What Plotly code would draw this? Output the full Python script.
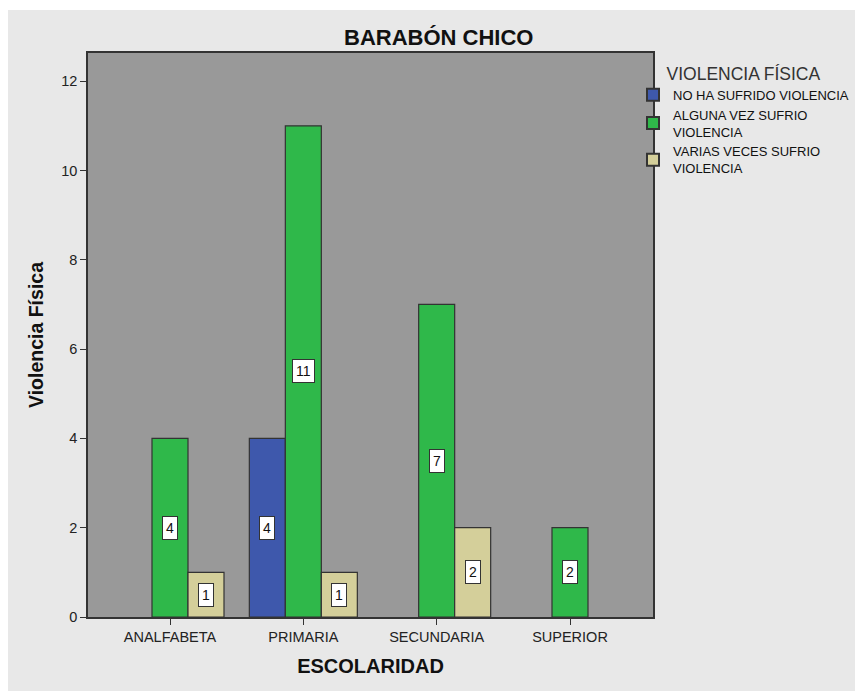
import plotly.graph_objects as go

categories = ["ANALFABETA", "PRIMARIA", "SECUNDARIA", "SUPERIOR"]
series_names = ["NO HA SUFRIDO VIOLENCIA", "ALGUNA VEZ SUFRIO<br>VIOLENCIA", "VARIAS VECES SUFRIO<br>VIOLENCIA"]
no_ha_sufrido = [None, 4, None, None]
alguna_vez = [4, 11, 7, 2]
varias_veces = [1, 1, 2, None]
colors = ["#3e58ac", "#2fb84a", "#d4cf9a"]
y_ticks = [0, 2, 4, 6, 8, 10, 12]

series = [no_ha_sufrido, alguna_vez, varias_veces]

W, H = 855, 691
L, R, T, B = 88, 202, 53, 74
pw, ph = W - L - R, H - T - B
HATCH = "#e8e8e8"

def px_x(p):
    return (p - L) / pw

def px_y(p):
    return (H - B - p) / ph

xpos = list(range(len(categories)))
bargap = 0.19
bw = (1 - bargap) / len(series)

fig = go.Figure()
for name, vals, col in zip(series_names, series, colors):
    fig.add_trace(go.Bar(
        x=xpos, y=vals, name=name,
        marker=dict(color=col, line=dict(color="#333333", width=1.2)),
        hoverinfo="skip",
    ))

font_fam = "Liberation Sans, Arial"

annotations = []
for k, vals in enumerate(series):
    off = (k - (len(series) - 1) / 2) * bw
    for i, v in enumerate(vals):
        if v is None:
            continue
        annotations.append(dict(
            x=i + off, y=v / 2, xref="x", yref="y",
            text=str(v), showarrow=False,
            font=dict(family=font_fam, size=14, color="#111111"),
            bgcolor="white", bordercolor="#333333", borderwidth=1, borderpad=3,
        ))

annotations.append(dict(
    x=px_x(438), y=px_y(38), xref="paper", yref="paper",
    text="<b>BARABÓN CHICO</b>", showarrow=False,
    xanchor="center", yanchor="middle",
    font=dict(family=font_fam, size=22, color="#111111"),
))

shapes = [
    dict(type="rect", xref="paper", yref="paper", layer="below",
         x0=px_x(8), x1=px_x(W + 20), y0=px_y(H + 5), y1=px_y(10),
         fillcolor=HATCH, line=dict(width=0)),
    dict(type="rect", xref="paper", yref="paper", layer="below",
         x0=0, x1=1, y0=0, y1=1,
         fillcolor="#999999", line=dict(width=0)),
]

fig.update_layout(
    width=W, height=H, autosize=False,
    margin=dict(l=L, r=R, t=T, b=B, pad=0, autoexpand=False),
    paper_bgcolor="white",
    plot_bgcolor="rgba(0,0,0,0)",
    barmode="group", bargap=bargap, bargroupgap=0,
    showlegend=True,
    legend=dict(
        x=px_x(633), y=px_y(57), xanchor="left", yanchor="top",
        bgcolor="rgba(0,0,0,0)",
        font=dict(family=font_fam, size=13, color="#111111"),
        title=dict(text="VIOLENCIA FÍSICA", side="top center",
                   font=dict(family=font_fam, size=17.5, color="#333333")),
        tracegroupgap=0, itemsizing="constant",
    ),
    xaxis=dict(
        range=[-0.615, 3.6225], tickmode="array", tickvals=xpos, ticktext=categories,
        ticks="outside", ticklen=6, tickcolor="#333333", tickwidth=1.2,
        showline=True, linecolor="#333333", linewidth=1.5, mirror=True,
        showgrid=False, zeroline=False, automargin=False,
        tickfont=dict(family=font_fam, size=14.5, color="#222222"),
        title=dict(text="<b>ESCOLARIDAD</b>", standoff=15,
                   font=dict(family=font_fam, size=20, color="#111111")),
        fixedrange=True,
    ),
    yaxis=dict(
        range=[0, 12.63], tickmode="array", tickvals=y_ticks,
        ticks="outside", ticklen=6, tickcolor="#333333", tickwidth=1.2,
        showline=True, linecolor="#333333", linewidth=1.5, mirror=True,
        showgrid=False, zeroline=False, automargin=False,
        tickfont=dict(family=font_fam, size=14.5, color="#222222"),
        title=dict(text="<b>Violencia Física</b>", standoff=12,
                   font=dict(family=font_fam, size=19.5, color="#111111")),
        fixedrange=True,
    ),
    annotations=annotations,
    shapes=shapes,
)

fig.write_html(
    "out.html",
    config={"displayModeBar": False, "responsive": False},
    post_script=("document.body.style.margin='0';"
                 "document.body.style.overflow='hidden';"
                 "document.body.style.background='" + HATCH + "';"),
)
